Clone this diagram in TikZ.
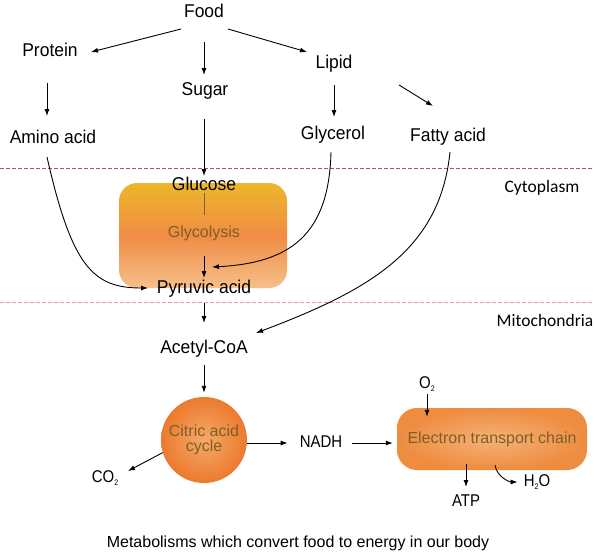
\documentclass[tikz,border=0pt]{standalone}
\usepackage{fontspec}
\setmainfont{Liberation Sans}
\newfontfamily\labfont[FakeStretch=0.945]{Liberation Sans}
\newfontfamily\smfont[FakeStretch=0.88]{Liberation Sans}
\newfontfamily\calib{Carlito}
\usetikzlibrary{arrows.meta,calc,shapes.geometric}
\definecolor{dashA}{RGB}{192,80,77}
\definecolor{dashB}{RGB}{222,160,158}
\definecolor{brownTxt}{RGB}{125,95,40}
\definecolor{glyTop}{RGB}{236,183,42}
\definecolor{glyMid}{RGB}{240,140,68}
\definecolor{glyBot}{RGB}{246,192,138}
\definecolor{citIn}{RGB}{245,170,104}
\definecolor{citOut}{RGB}{236,122,46}
\definecolor{etcIn}{RGB}{245,178,118}
\definecolor{etcOut}{RGB}{238,140,64}
\newcommand\subsc[1]{\raisebox{-3pt}{\fontsize{8}{8}\selectfont #1}}
\tikzset{
  lab/.style={inner sep=0pt, font=\labfont\fontsize{18.5}{21}\selectfont, text height=13.5pt, text depth=4pt},
  slab/.style={inner sep=0pt, font=\smfont\fontsize{17}{19}\selectfont, text height=12.5pt, text depth=3.5pt},
  region/.style={inner sep=0pt, font=\calib\fontsize{17.5}{20}\selectfont, text height=12.5pt, text depth=3.5pt},
  arr/.style={line width=0.9pt, -{Latex[length=7pt,width=5pt]}},
  sepline/.style={line width=0.8pt, dash pattern=on 4pt off 2pt},
  brownlab/.style={text=brownTxt, font=\fontsize{16}{15}\selectfont, align=center}
}
\begin{document}
\begin{tikzpicture}[x=1pt,y=-1pt]
\useasboundingbox (0,0) rectangle (594,552);
% region separators
\draw[sepline, dashA] (0,168) -- (594,168);
\draw[sepline, dashB] (0,302) -- (594,302);
\node[region] (cyto) at (542,188) {Cytoplasm};
\node[region] (mito) at (545,322) {Mitochondria};
% glycolysis box
\node[rounded corners=18pt, minimum width=168pt, minimum height=105pt, inner sep=0pt,
      top color=glyTop, bottom color=glyBot, middle color=glyMid] (gbox) at (203,235.5) {};
\node[brownlab, inner sep=0pt] (glyco) at (204,233) {Glycolysis};
% citric acid cycle
\node[circle, minimum size=86pt, inner sep=0pt, inner color=citIn, outer color=citOut, brownlab] (citric) at (204,440) {Citric acid\\cycle};
% electron transport chain
\node[rounded corners=20pt, minimum width=190pt, minimum height=62pt, inner sep=0pt,
      inner color=etcIn, outer color=etcOut, brownlab] (etc) at (492,439) {Electron transport chain};
% labels
\node[lab] (food) at (204,13) {Food};
\node[lab] (protein) at (50,52) {Protein};
\node[lab] (sugar) at (205,91) {Sugar};
\node[lab] (lipid) at (334,64) {Lipid};
\node[lab] (amino) at (53,139) {Amino acid};
\node[lab] (glycerol) at (333,135) {Glycerol};
\node[lab] (fatty) at (448,137) {Fatty acid};
\node[lab] (glucose) at (204,186) {Glucose};
\node[lab] (pyruvic) at (204,289) {Pyruvic acid};
\node[lab] (acetyl) at (204,349) {Acetyl-CoA};
\node[slab] (nadh) at (321,443) {NADH};
\node[slab] (o2) at (427,384) {O\subsc{2}};
\node[slab] (atp) at (466,502) {ATP};
\node[slab] (h2o) at (537,482) {H\subsc{2}O};
\node[slab] (co2) at (105,478) {CO\subsc{2}};
\node[inner sep=0pt, font=\fontsize{16}{18}\selectfont, text height=11.5pt, text depth=3.5pt] (caption) at (298,543) {Metabolisms which convert food to energy in our body};
% connectors
\draw[arr] ($(food)+(-23,16)$) -- ($(protein)+(41,0)$);
\draw[arr] ($(food)+(0,29)$) -- ($(sugar)+(-1,-16)$);
\draw[arr] ($(food)+(24,16)$) -- ($(lipid)+(-27,-12)$);
\draw[arr] ($(protein)+(-3,31)$) -- ($(amino)+(-6,-23)$);
\draw[arr] ($(lipid)+(0,21)$) -- ($(glycerol)+(1,-18)$);
\draw[arr] ($(lipid)+(65,21)$) -- ($(fatty)+(-15,-31)$);
\draw[arr] ($(sugar)+(-1,28)$) -- ($(glucose)+(0,-10)$);
\draw[line width=1pt, brownTxt] ($(glucose)+(0,7)$) -- ($(glyco)+(0,-18)$);
\draw[arr] ($(glyco)+(0,23)$) -- ($(pyruvic)+(0,-11)$);
\draw[arr] ($(amino)+(-6,18)$) .. controls +(25,110) and +(-55,0) .. ($(pyruvic)+(-56,-1)$);
\draw[arr] ($(glycerol)+(-2,17)$) .. controls +(-2,83) and +(78,-4) .. ($(pyruvic)+(8,-22)$);
\draw[arr] ($(fatty)+(2,15)$) .. controls +(-10,98) and +(114,-43) .. ($(acetyl)+(52,-16)$);
\draw[arr] ($(pyruvic)+(0,14)$) -- ($(acetyl)+(0,-26)$);
\draw[arr, shorten >=4pt] ($(acetyl)+(0,16)$) -- (citric.north);
\draw[arr] (citric.east |- nadh) -- ($(nadh.west)+(-12,0)$);
\draw[arr] ($(nadh.east)+(10,0)$) -- ($(etc.west |- nadh)+(-4,0)$);
\draw[arr] ($(o2)+(0,10)$) -- ($(o2 |- etc.north)+(0,9)$);
\draw[arr] ($(atp |- etc.south)+(0,-6)$) -- ($(atp)+(0,-15)$);
\draw[arr] ($(etc.south)+(3,-5)$) .. controls +(2,12) and +(-8,0) .. ($(h2o.west)+(-6,0)$);
\draw[arr] (citric.197) -- ($(co2)+(23,-7)$);
\end{tikzpicture}
\end{document}
